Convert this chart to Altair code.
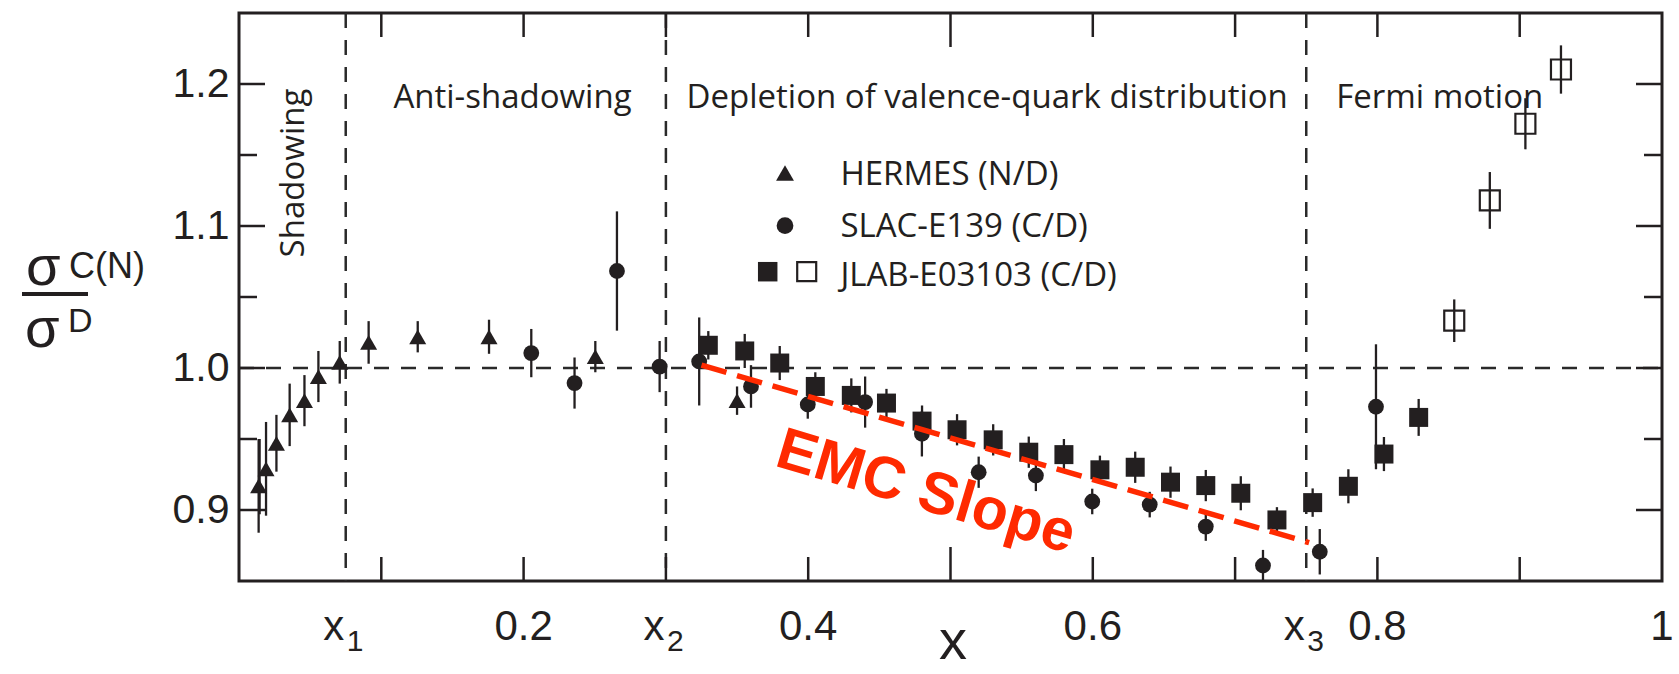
import altair as alt
import pandas as pd

# ---------------- data ----------------
hermes_x = [0.0138, 0.019, 0.0263, 0.0356, 0.046, 0.0558, 0.0708, 0.0911, 0.1256, 0.1757, 0.2504, 0.350]
hermes_y = [0.917, 0.929, 0.947, 0.967, 0.977, 0.994, 1.004, 1.018, 1.022, 1.022, 1.008, 0.977]
hermes_err = [0.033, 0.033, 0.020, 0.022, 0.018, 0.018, 0.015, 0.015, 0.011, 0.012, 0.011, 0.010]

slac_x = [0.2054, 0.2358, 0.2656, 0.2956, 0.3234, 0.3598, 0.3997, 0.440, 0.4799, 0.5198,
          0.560, 0.5996, 0.640, 0.6794, 0.7196, 0.7595, 0.799]
slac_y = [1.0105, 0.9894, 1.0683, 1.001, 1.0046, 0.987, 0.9743, 0.976, 0.9537, 0.9266,
          0.9243, 0.906, 0.9038, 0.8883, 0.8609, 0.8706, 0.9727]
slac_err = [0.017, 0.018, 0.042, 0.018, 0.031, 0.015, 0.010, 0.018, 0.016, 0.011,
            0.011, 0.009, 0.009, 0.010, 0.011, 0.016, 0.044]

jlab_x = [0.3298, 0.3554, 0.380, 0.405, 0.4303, 0.455, 0.480, 0.5046, 0.530, 0.555, 0.5797,
          0.605, 0.6298, 0.6546, 0.6794, 0.704, 0.7294, 0.7545, 0.7796, 0.8046, 0.829]
jlab_y = [1.016, 1.012, 1.0035, 0.987, 0.9807, 0.9753, 0.9626, 0.9565, 0.9494, 0.9407, 0.939,
          0.9283, 0.9301, 0.9196, 0.9172, 0.9118, 0.893, 0.9052, 0.9167, 0.9394, 0.9652]
jlab_err = [0.010, 0.012, 0.012, 0.010, 0.012, 0.010, 0.011, 0.011, 0.011, 0.011, 0.011,
            0.010, 0.011, 0.011, 0.011, 0.012, 0.009, 0.010, 0.012, 0.012, 0.013]

jlab_open_x = [0.854, 0.879, 0.904, 0.929]
jlab_open_y = [1.0333, 1.118, 1.172, 1.2102]
jlab_open_err = [0.015, 0.020, 0.018, 0.017]

norm_x = [0.0146]
norm_lo = [0.897]
norm_hi = [0.95]

emc_x = [0.325, 0.752]
emc_y = [1.002, 0.877]

region_bounds = [0.075, 0.3, 0.75]
unity = [1.0]

x_minor_ticks = [0.1, 0.2, 0.3, 0.4, 0.6, 0.7, 0.8, 0.9]
x_major_ticks = [0.5]
y_major_ticks = [0.9, 1.0, 1.1, 1.2]
y_minor_ticks = [0.95, 1.05, 1.15]
y_label_values = [0.9, 1.0, 1.1, 1.2]

x_num_label_vals = [0.2, 0.4, 0.6, 0.8, 1.0]
x_num_label_text = ["0.2", "0.4", "0.6", "0.8", "1"]
x_sym_label_vals = [0.075, 0.3, 0.75]
x_sym_label_subs = ["1", "2", "3"]

legend_labels = ["HERMES (N/D)", "SLAC-E139 (C/D)", "JLAB-E03103 (C/D)"]
region_labels = ["Anti-shadowing", "Depletion of valence-quark distribution", "Fermi motion"]

# ---------------- styling ----------------
W, H = 1423, 568
INK = '#231f20'
RED = '#ff2a00'
NUMFONT = 'Liberation Sans'
TXTFONT = 'Open Sans'

xs = alt.Scale(domain=[0, 1], nice=False, zero=False)
ys = alt.Scale(domain=[0.85, 1.25], nice=False, zero=False)
yaxis = alt.Axis(values=y_label_values, format='.1f', ticks=False, domain=False, grid=False,
                 labelFontSize=41, labelFont=NUMFONT, labelColor=INK, labelPadding=10, title=None)


def X(f):
    return alt.X(f, type='quantitative', scale=xs, axis=None)


def Y(f):
    return alt.Y(f, type='quantitative', scale=ys, axis=yaxis)


def series_df(xv, yv, ev):
    return pd.DataFrame({'x': xv, 'y': yv,
                         'lo': [a - b for a, b in zip(yv, ev)],
                         'hi': [a + b for a, b in zip(yv, ev)]})


one = pd.DataFrame({'a': [0]})
layers = []

# reference dashed lines
layers.append(alt.Chart(pd.DataFrame({'v': region_bounds})).mark_rule(
    color='#2a2a2a', strokeWidth=2.5, strokeDash=[15, 12]).encode(
    x=X('v'), y=alt.value(0), y2=alt.value(H)))
layers.append(alt.Chart(pd.DataFrame({'v': unity})).mark_rule(
    color='#2a2a2a', strokeWidth=2.5, strokeDash=[15, 12]).encode(
    y=Y('v'), x=alt.value(0), x2=alt.value(W)))

# ticks (inward)
for vals, L in [(x_minor_ticks, 24), (x_major_ticks, 34)]:
    d = pd.DataFrame({'v': vals})
    layers.append(alt.Chart(d).mark_rule(color=INK, strokeWidth=2.5).encode(
        x=X('v'), y=alt.value(0), y2=alt.value(L)))
    layers.append(alt.Chart(d).mark_rule(color=INK, strokeWidth=2.5).encode(
        x=X('v'), y=alt.value(H), y2=alt.value(H - L)))
for vals, L in [(y_major_ticks, 26), (y_minor_ticks, 18)]:
    d = pd.DataFrame({'v': vals})
    layers.append(alt.Chart(d).mark_rule(color=INK, strokeWidth=2.5).encode(
        y=Y('v'), x=alt.value(0), x2=alt.value(L)))
    layers.append(alt.Chart(d).mark_rule(color=INK, strokeWidth=2.5).encode(
        y=Y('v'), x=alt.value(W), x2=alt.value(W - L)))

# normalisation bar at low x
layers.append(alt.Chart(pd.DataFrame({'x': norm_x, 'lo': norm_lo, 'hi': norm_hi})).mark_rule(
    color=INK, strokeWidth=2).encode(x=X('x'), y=Y('lo'), y2=alt.Y2('hi')))

# data series
hermes = series_df(hermes_x, hermes_y, hermes_err)
slac = series_df(slac_x, slac_y, slac_err)
jlab = series_df(jlab_x, jlab_y, jlab_err)
jlab_o = series_df(jlab_open_x, jlab_open_y, jlab_open_err)

for d in [hermes, slac, jlab, jlab_o]:
    layers.append(alt.Chart(d).mark_rule(color=INK, strokeWidth=2.3).encode(
        x=X('x'), y=Y('lo'), y2=alt.Y2('hi')))

layers.append(alt.Chart(hermes).mark_point(shape='triangle-up', filled=True, size=290,
                                           color=INK, opacity=1).encode(x=X('x'), y=Y('y')))
layers.append(alt.Chart(slac).mark_point(shape='circle', filled=True, size=250,
                                         color=INK, opacity=1).encode(x=X('x'), y=Y('y')))
layers.append(alt.Chart(jlab).mark_point(shape='square', filled=True, size=361,
                                         color=INK, opacity=1).encode(x=X('x'), y=Y('y')))
layers.append(alt.Chart(jlab_o).mark_point(shape='square', filled=False, size=400,
                                           color=INK, strokeWidth=2.2, opacity=1).encode(x=X('x'), y=Y('y')))

# EMC slope
layers.append(alt.Chart(pd.DataFrame({'x': emc_x, 'y': emc_y})).mark_line(
    color=RED, strokeWidth=5.5, strokeDash=[26, 11]).encode(x=X('x'), y=Y('y')))
layers.append(alt.Chart(one).mark_text(text='EMC Slope', font=NUMFONT, fontWeight='bold',
                                       fontSize=59, color=RED, angle=16.6, align='center',
                                       baseline='middle').encode(
    x=alt.value(687), y=alt.value(479)))

# region labels
for txt, px in zip(region_labels, [273.5, 748.2, 1200.7]):
    layers.append(alt.Chart(one).mark_text(text=txt, font=TXTFONT, fontSize=33, color=INK,
                                           align='center', baseline='alphabetic').encode(
        x=alt.value(px), y=alt.value(94.5)))
layers.append(alt.Chart(one).mark_text(text='Shadowing', font=TXTFONT, fontSize=33, color=INK,
                                       align='center', baseline='middle', angle=270).encode(
    x=alt.value(55), y=alt.value(160)))

# legend
layers.append(alt.Chart(one).mark_point(shape='triangle-up', filled=True, size=320, color=INK,
                                        opacity=1).encode(x=alt.value(546), y=alt.value(160)))
layers.append(alt.Chart(one).mark_point(shape='circle', filled=True, size=280, color=INK,
                                        opacity=1).encode(x=alt.value(546), y=alt.value(212.7)))
layers.append(alt.Chart(one).mark_point(shape='square', filled=True, size=380, color=INK,
                                        opacity=1).encode(x=alt.value(528.7), y=alt.value(258.7)))
layers.append(alt.Chart(one).mark_point(shape='square', filled=False, size=361, color=INK,
                                        strokeWidth=2.2, opacity=1).encode(x=alt.value(567.7), y=alt.value(258.7)))
for txt, py in zip(legend_labels, [172, 223.5, 273]):
    layers.append(alt.Chart(one).mark_text(text=txt, font=TXTFONT, fontSize=33, color=INK,
                                           align='left', baseline='alphabetic').encode(
        x=alt.value(601.4), y=alt.value(py)))

# x tick labels
layers.append(alt.Chart(pd.DataFrame({'v': x_num_label_vals, 't': x_num_label_text})).mark_text(
    font=NUMFONT, fontSize=42, color=INK, align='center', baseline='alphabetic').encode(
    x=X('v'), y=alt.value(627), text='t:N'))
sym = pd.DataFrame({'v': x_sym_label_vals, 's': x_sym_label_subs})
layers.append(alt.Chart(sym).mark_text(text='x', font=NUMFONT, fontSize=42, color=INK,
                                       align='center', baseline='alphabetic', dx=-12).encode(
    x=X('v'), y=alt.value(627)))
layers.append(alt.Chart(sym).mark_text(font=NUMFONT, fontSize=30, color=INK,
                                       align='left', baseline='alphabetic', dx=1).encode(
    x=X('v'), y=alt.value(638), text='s:N'))

# x title
layers.append(alt.Chart(one).mark_text(text='x', font=NUMFONT, fontSize=56, color=INK,
                                       align='center', baseline='alphabetic').encode(
    x=alt.value(714), y=alt.value(646)))

# y title: sigma^C(N) / sigma^D
layers.append(alt.Chart(one).mark_text(text='σ', font=NUMFONT, fontSize=56, color=INK,
                                       align='left', baseline='alphabetic').encode(
    x=alt.value(-213), y=alt.value(272)))
layers.append(alt.Chart(one).mark_text(text='C(N)', font=NUMFONT, fontSize=36, color=INK,
                                       align='left', baseline='alphabetic').encode(
    x=alt.value(-170), y=alt.value(265)))
layers.append(alt.Chart(one).mark_rule(color=INK, strokeWidth=4).encode(
    x=alt.value(-217), x2=alt.value(-151), y=alt.value(281)))
layers.append(alt.Chart(one).mark_text(text='σ', font=NUMFONT, fontSize=56, color=INK,
                                       align='left', baseline='alphabetic').encode(
    x=alt.value(-214), y=alt.value(334)))
layers.append(alt.Chart(one).mark_text(text='D', font=NUMFONT, fontSize=34, color=INK,
                                       align='left', baseline='alphabetic').encode(
    x=alt.value(-171), y=alt.value(319)))

chart = alt.layer(*layers).properties(
    width=W, height=H,
    autosize=alt.AutoSizeParams(type='none'),
    padding={'left': 239, 'top': 13, 'right': 17, 'bottom': 93},
    background='white',
).configure_view(stroke=INK, strokeWidth=3)

chart.save("out.html", embed_options={"renderer": "svg", "actions": False})
